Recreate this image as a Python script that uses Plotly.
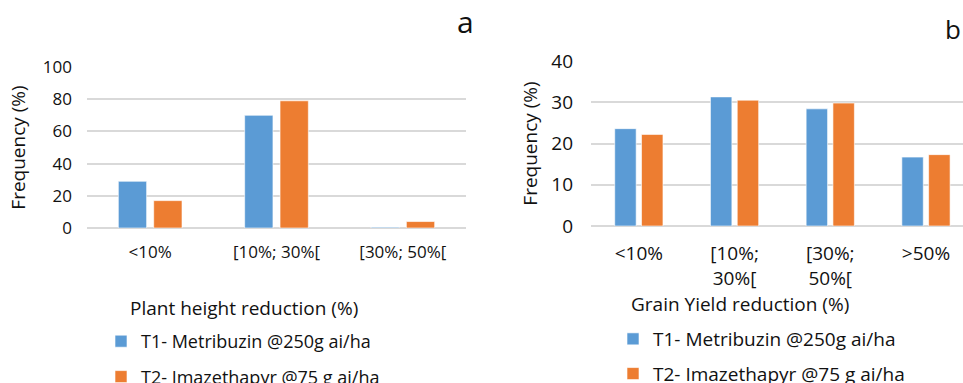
import plotly.graph_objects as go

# Panel a: plant height reduction
cats_a = ["<10%", "[10%; 30%[", "[30%; 50%["]
t1_a = [29, 70, 0.5]
t2_a = [17, 79, 4]

# Panel b: grain yield reduction
cats_b = ["<10%", "[10%;<br>30%[", "[30%;<br>50%[", ">50%"]
t1_b = [23.6, 31.3, 28.4, 16.7]
t2_b = [22.2, 30.5, 29.8, 17.3]

name1 = "T1- Metribuzin @250g ai/ha"
name2 = "T2- Imazethapyr @75 g ai/ha"
title_a = "Plant height reduction (%)"
title_b = "Grain Yield reduction (%)"
ytitle = "Frequency (%)"

blue = "#5B9BD5"
orange = "#ED7D31"
grid = "#D9D9D9"
FONT = "Open Sans"
txt = "#111111"
H = 383
W = 963

fig = go.Figure()
edge = dict(color="rgba(255,255,255,0.6)", width=1)
fig.add_trace(go.Bar(x=cats_a, y=t1_a, name=name1, marker=dict(color=blue, line=edge),
                     xaxis="x", yaxis="y", legend="legend", legendgroup="a1"))
fig.add_trace(go.Bar(x=cats_a, y=t2_a, name=name2, marker=dict(color=orange, line=edge),
                     xaxis="x", yaxis="y", legend="legend", legendgroup="a2"))
fig.add_trace(go.Bar(x=cats_b, y=t1_b, name=name1, marker=dict(color=blue, line=edge),
                     xaxis="x2", yaxis="y2", legend="legend2", legendgroup="b1"))
fig.add_trace(go.Bar(x=cats_b, y=t2_b, name=name2, marker=dict(color=orange, line=edge),
                     xaxis="x2", yaxis="y2", legend="legend2", legendgroup="b2"))

fa = dict(family=FONT, size=17, color=txt)
fb = dict(family=FONT, size=19, color=txt)
ft = dict(family=FONT, size=19, color=txt)

fig.update_layout(
    width=W, height=H,
    margin=dict(l=0, r=0, t=0, b=0, autoexpand=False),
    paper_bgcolor="white", plot_bgcolor="white",
    barmode="group", bargap=0.44, bargroupgap=0.2,
    font=dict(family=FONT, color=txt),
    xaxis=dict(domain=[87/W, 466/W], anchor="y", tickfont=fa, showgrid=False,
               ticks="", ticklabelstandoff=12),
    yaxis=dict(domain=[(H-228)/H, (H-67)/H], anchor="x", range=[0, 100],
               dtick=20, gridcolor=grid, gridwidth=1.5, zeroline=True, zerolinecolor=grid,
               zerolinewidth=2, tickfont=fa, ticks="", ticklabelstandoff=14,
               title=dict(text=ytitle, font=ft, standoff=12)),
    xaxis2=dict(domain=[591/W, 1.0], anchor="y2", range=[-0.5, 3.387], tickfont=fb,
                showgrid=False, ticks="", ticklabelstandoff=14),
    yaxis2=dict(domain=[(H-226)/H, (H-61)/H], anchor="x2", range=[0, 40],
                dtick=10, gridcolor=grid, gridwidth=1.5, zeroline=True, zerolinecolor=grid,
                zerolinewidth=2, tickfont=fb, ticks="", ticklabelstandoff=17,
                title=dict(text=ytitle, font=ft, standoff=8)),
    legend=dict(x=101/W, y=(H-323)/H, xanchor="left", yanchor="top",
                font=dict(family=FONT, size=18, color=txt), traceorder="grouped",
                tracegroupgap=9, bgcolor="rgba(0,0,0,0)"),
    legend2=dict(x=613/W, y=(H-320)/H, xanchor="left", yanchor="top",
                 font=fb, traceorder="grouped", tracegroupgap=7, bgcolor="rgba(0,0,0,0)"),
    annotations=[
        dict(text=title_a, x=243.5/W, y=(H-308)/H, xref="paper", yref="paper",
             xanchor="center", yanchor="middle", showarrow=False, font=ft),
        dict(text=title_b, x=740/W, y=(H-304)/H, xref="paper", yref="paper",
             xanchor="center", yanchor="middle", showarrow=False, font=ft),
        dict(text="a", x=465/W, y=(H-22)/H, xref="paper", yref="paper",
             xanchor="center", yanchor="middle",
             showarrow=False, font=dict(family=FONT, size=30, color=txt)),
        dict(text="b", x=953/W, y=(H-29)/H, xref="paper", yref="paper",
             xanchor="center", yanchor="middle",
             showarrow=False, font=dict(family=FONT, size=26, color=txt)),
    ],
)

fig.write_html("out.html", config={"displayModeBar": False},
               post_script="document.body.style.margin='0';document.body.style.overflow='hidden';")
